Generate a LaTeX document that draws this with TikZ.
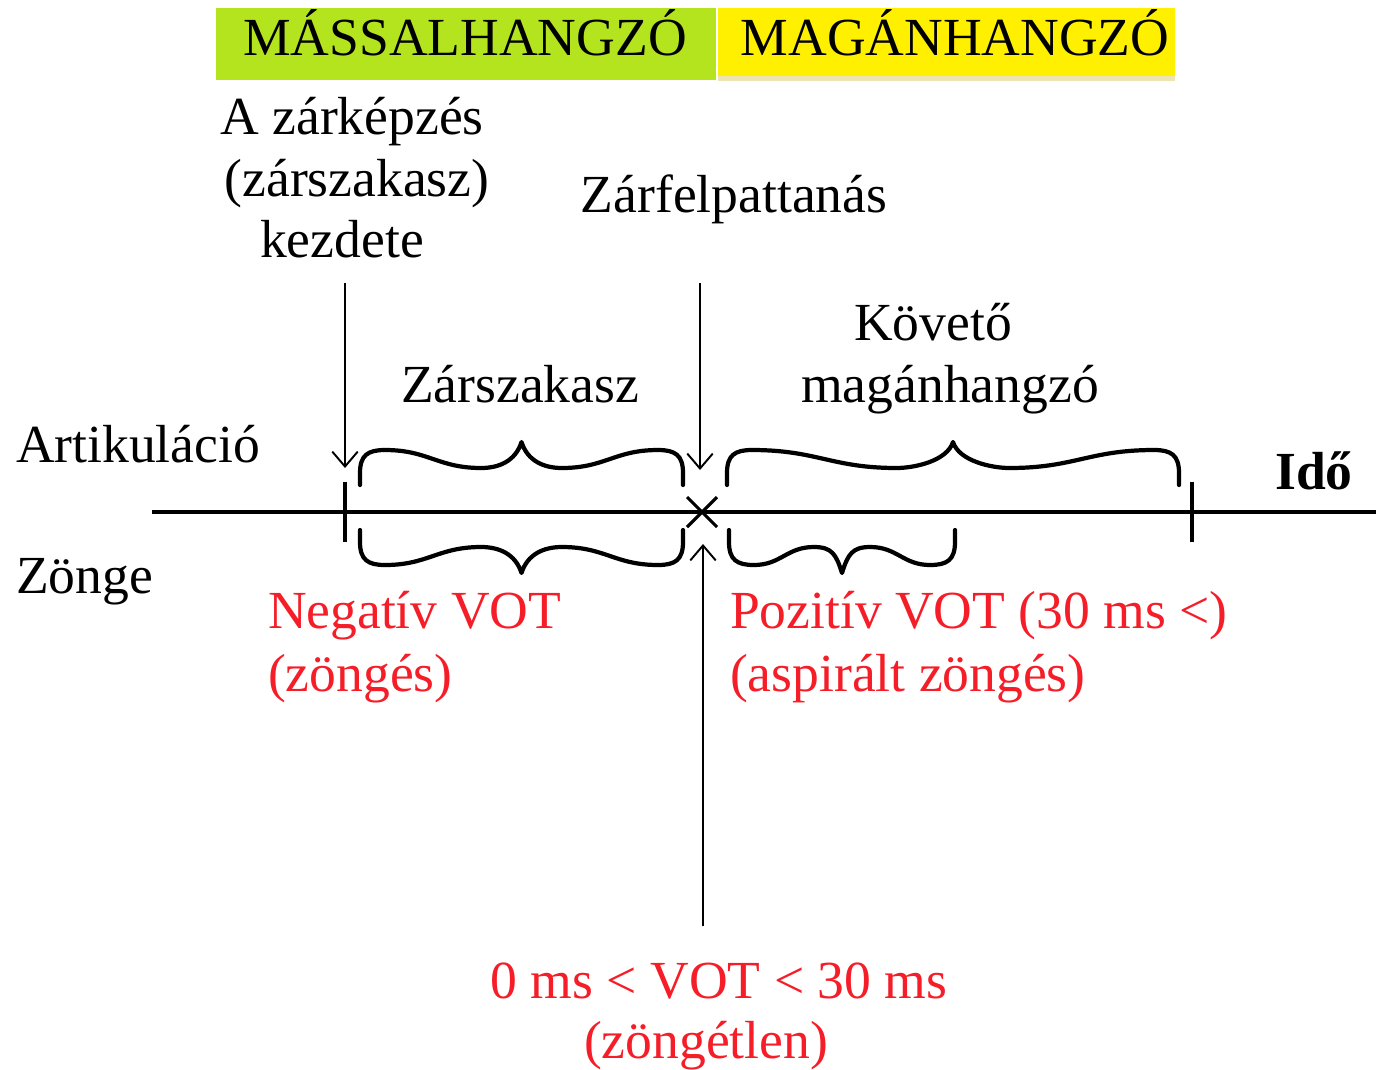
\documentclass[tikz,border=0pt]{standalone}
\usepackage{fontspec}
\setmainfont{Liberation Serif}
\usetikzlibrary{arrows.meta}
\definecolor{mgreen}{RGB}{180,228,30}
\definecolor{myellow}{RGB}{255,240,0}
\definecolor{mbeige}{RGB}{238,228,178}
\definecolor{mred}{RGB}{245,30,40}
\tikzset{
  txt/.style={font=\fontsize{30.5}{36}\selectfont, inner sep=0pt, outer sep=0pt},
  redtxt/.style={txt, text=mred},
  axisline/.style={line width=2.3pt},
  tickline/.style={line width=2.3pt},
  bracestyle/.style={line width=2.4pt, line cap=round, line join=round},
  thinarrow/.style={line width=1.1pt, -{Straight Barb[length=8.5pt,width=14.5pt]}},
}
% brace: x1, x2, ybase, direction (+1 down, -1 up)
\newcommand{\mybrace}[4]{%
  \pgfmathsetmacro{\bxm}{(#1+#2)/2}%
  \pgfmathsetmacro{\bw}{(#2-#1)/2}%
  \pgfmathsetmacro{\bgl}{\bxm-0.25*\bw}%
  \pgfmathsetmacro{\bgr}{\bxm+0.25*\bw}%
  \pgfmathsetmacro{\bsl}{#1+25}%
  \pgfmathsetmacro{\bsr}{#2-25}%
  \pgfmathsetmacro{\bcla}{\bsl+0.45*(\bgl-\bsl)}%
  \pgfmathsetmacro{\bclb}{\bgl-0.45*(\bgl-\bsl)}%
  \pgfmathsetmacro{\bcra}{\bsr-0.45*(\bsr-\bgr)}%
  \pgfmathsetmacro{\bcrb}{\bgr+0.45*(\bsr-\bgr)}%
  \draw[bracestyle] (#1,#3) -- (#1,{#3+#4*12})
    .. controls (#1,{#3+#4*30}) and ({#1+8},{#3+#4*35}) .. (\bsl,{#3+#4*35})
    .. controls (\bcla,{#3+#4*35}) and (\bclb,{#3+#4*17}) .. (\bgl,{#3+#4*17})
    .. controls ({\bgl+18},{#3+#4*17}) and ({\bxm-6},{#3+#4*24}) .. (\bxm,{#3+#4*43})
    .. controls ({\bxm+6},{#3+#4*24}) and ({\bgr-18},{#3+#4*17}) .. (\bgr,{#3+#4*17})
    .. controls (\bcrb,{#3+#4*17}) and (\bcra,{#3+#4*35}) .. (\bsr,{#3+#4*35})
    .. controls ({#2-8},{#3+#4*35}) and (#2,{#3+#4*30}) .. (#2,{#3+#4*12}) -- (#2,#3);%
}
\begin{document}
\begin{tikzpicture}[x=0.02cm, y=-0.02cm]
\useasboundingbox (0,0) rectangle (1376,1069);
% header boxes
\fill[mgreen] (216,8) rectangle (716,80);
\fill[mbeige] (718,8) rectangle (1175,81);
\fill[myellow] (718,8) rectangle (1175,76);
\node[txt, anchor=base] (mass) at (465,55) {MÁSSALHANGZÓ};
\node[txt, anchor=base] (magan) at (955,55) {MAGÁNHANGZÓ};

% upper labels
\node[txt, anchor=base] (zk1) at (352,134) {A zárképzés};
\node[txt, anchor=base] (zk2) at (357,196) {(zárszakasz)};
\node[txt, anchor=base] (zk3) at (342,257) {kezdete};
\node[txt, anchor=base] (zfp) at (734,212) {Zárfelpattanás};
\node[txt, anchor=base] (zsz) at (520,402) {Zárszakasz};
\node[txt, anchor=base] (kov1) at (933,340) {Követő};
\node[txt, anchor=base] (kov2) at (950,402) {magánhangzó};
\node[txt, anchor=base west] (art) at (16,462) {Artikuláció};
\node[txt, anchor=base west] (zonge) at (16,593) {Zönge};
\node[txt, anchor=base, font=\fontsize{30.5}{36}\selectfont\bfseries] (ido) at (1314,489) {Idő};

% red labels
\node[redtxt, anchor=base west] (neg1) at (268,628) {Negatív VOT};
\node[redtxt, anchor=base west] (neg2) at (268,691) {(zöngés)};
\node[redtxt, anchor=base west] (poz1) at (730,628) {Pozitív VOT (30 ms <)};
\node[redtxt, anchor=base west] (poz2) at (730,691) {(aspirált zöngés)};
\node[redtxt, anchor=base] (nul1) at (719,998) {0 ms < VOT < 30 ms};
\node[redtxt, anchor=base] (nul2) at (706,1058) {(zöngétlen)};

% axis
\coordinate (axL) at (152,512);
\coordinate (axR) at (1376,512);
\draw[axisline] (axL) -- (axR);
\coordinate (t1a) at (345,482); \coordinate (t1b) at (345,542);
\coordinate (t2a) at (1192,482); \coordinate (t2b) at (1192,542);
\draw[tickline] (t1a) -- (t1b);
\draw[tickline] (t2a) -- (t2b);
\coordinate (xa) at (687,497); \coordinate (xb) at (717,527);
\coordinate (xc) at (687,527); \coordinate (xd) at (717,497);
\draw[line width=1.8pt] (xa) -- (xb) (xc) -- (xd);

% arrows
\coordinate (a1s) at (345,283); \coordinate (a1e) at (345,468);
\coordinate (a2s) at (700,283); \coordinate (a2e) at (700,470);
\coordinate (a3s) at (703,926); \coordinate (a3e) at (703,544);
\draw[thinarrow] (a1s) -- (a1e);
\draw[thinarrow] (a2s) -- (a2e);
\draw[thinarrow] (a3s) -- (a3e);

% braces
\mybrace{360}{683}{485}{-1}
\mybrace{360}{683}{530}{1}
\mybrace{727}{1179}{485}{-1}
\mybrace{729}{955}{530}{1}
\end{tikzpicture}
\end{document}
